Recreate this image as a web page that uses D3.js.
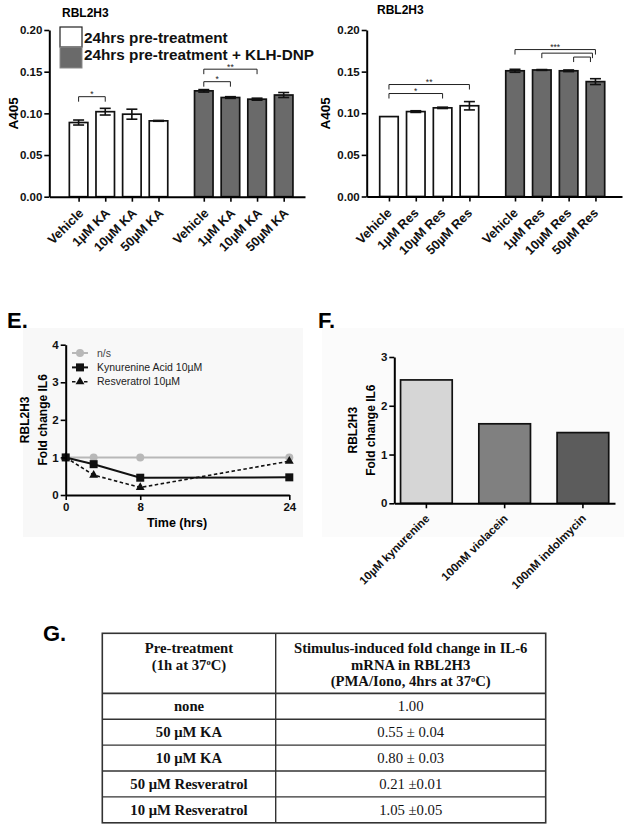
<!DOCTYPE html>
<html>
<head>
<meta charset="utf-8">
<title>RBL2H3</title>
<script src="https://cdnjs.cloudflare.com/ajax/libs/d3/7.8.5/d3.min.js"></script>
<style>
body { margin: 0; background: #fff; }
svg text { font-family: Arial, "Liberation Sans", sans-serif; }
</style>
</head>
<body>
<svg id="fig" width="624" height="828"></svg>
<script>
    // ---- data ----
    var kaLabels = ["Vehicle", "1\u00b5M KA", "10\u00b5M KA", "50\u00b5M KA"];
    var kaPre = [0.089, 0.102, 0.099, 0.091];
    var kaPreErr = [0.003, 0.004, 0.006, 0.0005];
    var kaKlh = [0.127, 0.119, 0.117, 0.122];
    var kaKlhErr = [0.0015, 0.001, 0.0012, 0.003];

    var resLabels = ["Vehicle", "1\u00b5M Res", "10\u00b5M Res", "50\u00b5M Res"];
    var resPre = [0.096, 0.102, 0.1065, 0.109];
    var resPreErr = [0, 0.001, 0.0008, 0.005];
    var resKlh = [0.151, 0.152, 0.151, 0.138];
    var resKlhErr = [0.0018, 0.0005, 0.001, 0.0035];

    var a405Ticks = [0, 0.05, 0.10, 0.15, 0.20];
    var legendLabels = ["24hrs pre-treatment", "24hrs pre-treatment + KLH-DNP"];

    // significance brackets: group, from bar, to bar, level (A405), text
    var kaSig = [
        {g: 0, a: 0, b: 1, level: 0.120, text: "*"},
        {g: 1, a: 0, b: 1, level: 0.138, text: "*"},
        {g: 1, a: 0, b: 2, level: 0.153, text: "**"}
    ];
    var resSig = [
        {g: 0, a: 0, b: 2, level: 0.1237, text: "*"},
        {g: 0, a: 0, b: 3, level: 0.1345, text: "**"},
        {g: 1, a: 0, b: 3, level: 0.1765, text: "***"},
        {g: 1, a: 1, b: 3, level: 0.1722, text: ""},
        {g: 1, a: 2, b: 3, level: 0.1675, text: ""}
    ];

    var timePoints = [0, 3, 8, 24];
    var timeTicks = [0, 8, 24];
    var foldTicks = [0, 1, 2, 3, 4];
    var nsSeries = [1, 1, 1, 1];
    var kaSeries = [1, 0.82, 0.46, 0.47];
    var resSeries = [1, 0.53, 0.20, 0.90];
    var lineNames = ["n/s", "Kynurenine Acid 10\u00b5M", "Resveratrol 10\u00b5M"];

    var fLabels = ["10\u00b5M kynurenine", "100nM violacein", "100nM indolmycin"];
    var fValues = [2.53, 1.63, 1.45];
    var fTicks = [0, 1, 2, 3];

    var tableHead = [["Pre-treatment", "(1h at 37^oC)"],
                     ["Stimulus-induced fold change in IL-6", "mRNA in RBL2H3", "(PMA/Iono, 4hrs at 37^oC)"]];
    var tableTreatment = ["none", "50 \u03bcM KA", "10 \u03bcM KA", "50 \u03bcM Resveratrol", "10 \u03bcM Resveratrol"];
    var tableFold = ["1.00", "0.55 \u00b1 0.04", "0.80 \u00b1 0.03", "0.21 \u00b10.01", "1.05 \u00b10.05"];

    var svg = d3.select("#fig");
    var white = "#ffffff", darkGray = "#6a6a6a";

    // ---- bar panels (top row) ----
    function barPanel(o) {
        var g = svg.append("g");
        var y = d3.scaleLinear().domain([0, 0.2]).range([o.yBottom, o.yTop]);
        var x = d3.scaleLinear().domain(o.slots).range([o.axisX, o.axisEnd]);
        var groupGap = 4.7;
        var pos = function(gi, i) { return gi * groupGap + i; };
        var bw = 18.5;

        var bars = [];
        o.series.forEach(function(s, gi) {
            s.values.forEach(function(v, i) {
                bars.push({p: pos(gi, i), v: v, e: s.err[i], fill: s.fill, label: o.labels[i]});
            });
        });

        g.selectAll("rect.bar").data(bars).enter().append("rect")
            .attr("class", "bar")
            .attr("x", d => x(d.p) - bw / 2)
            .attr("width", bw)
            .attr("y", d => y(d.v))
            .attr("height", d => y(0) - y(d.v))
            .attr("fill", d => d.fill)
            .attr("stroke", "#111")
            .attr("stroke-width", 1.7);

        // error bars
        var eb = g.selectAll("g.err").data(bars.filter(d => d.e > 0)).enter().append("g")
            .attr("stroke", "#111").attr("stroke-width", 1.6);
        eb.append("line")
            .attr("x1", d => x(d.p)).attr("x2", d => x(d.p))
            .attr("y1", d => y(d.v - d.e)).attr("y2", d => y(d.v + d.e));
        eb.append("line")
            .attr("x1", d => x(d.p) - 5.5).attr("x2", d => x(d.p) + 5.5)
            .attr("y1", d => y(d.v + d.e)).attr("y2", d => y(d.v + d.e));
        eb.append("line")
            .attr("x1", d => x(d.p) - 5.5).attr("x2", d => x(d.p) + 5.5)
            .attr("y1", d => y(d.v - d.e)).attr("y2", d => y(d.v - d.e));

        // y axis
        var ya = g.append("g")
            .attr("transform", "translate(" + o.axisX + ",0)")
            .call(d3.axisLeft(y).tickValues(a405Ticks).tickFormat(d3.format(".2f")).tickSize(5).tickSizeOuter(0));
        ya.select(".domain").attr("stroke-width", 2);
        ya.selectAll(".tick line").attr("stroke-width", 1.6);
        ya.selectAll("text").attr("font-size", 11.5).attr("font-weight", "bold")
            .attr("font-family", "Arial, 'Liberation Sans', sans-serif").attr("x", -7).attr("fill", "#111");

        // x axis with rotated labels
        var ticks = bars.map(d => d.p);
        var xa = g.append("g")
            .attr("transform", "translate(0," + y(0) + ")")
            .call(d3.axisBottom(x).tickValues(ticks).tickSize(5).tickSizeOuter(0)
                .tickFormat(function(p) { return bars.find(d => d.p === p).label; }));
        xa.select(".domain").attr("stroke-width", 2);
        xa.selectAll(".tick line").attr("stroke-width", 1.6);
        xa.selectAll("text")
            .attr("font-size", 12.8).attr("font-weight", "bold")
            .attr("font-family", "Arial, 'Liberation Sans', sans-serif").attr("fill", "#111")
            .attr("x", 0).attr("y", 0).attr("dy", "0.35em")
            .attr("text-anchor", "end")
            .attr("transform", "translate(" + o.labelDx + ",14) rotate(-45)");

        // significance brackets
        o.sig.forEach(function(s) {
            var depth = (s.text === "") ? (s.b - s.a === 1 ? 5 : 3) : 0;
            var x1 = x(pos(s.g, s.a)) + (s.b - s.a === 1 && depth ? depth : 0);
            var x2 = x(pos(s.g, s.b)) - depth;
            var yy = y(s.level);
            g.append("path")
                .attr("d", "M" + x1 + "," + (yy + 5) + "V" + yy + "H" + x2 + "V" + (yy + 5))
                .attr("fill", "none").attr("stroke", "#222").attr("stroke-width", 1);
            if (s.text) {
                g.append("text").attr("x", (x1 + x2) / 2).attr("y", yy + 0.5)
                    .attr("text-anchor", "middle").attr("font-size", 8.5).attr("fill", "#222")
                    .text(s.text);
            }
        });

        // title and y label
        g.append("text").attr("x", o.titleX).attr("y", o.titleY)
            .attr("font-size", 12).attr("font-weight", "bold").text("RBL2H3");
        g.append("text")
            .attr("transform", "translate(" + o.ylabX + "," + y(0.1) + ") rotate(-90)")
            .attr("text-anchor", "middle").attr("font-size", 13.5).attr("font-weight", "bold")
            .text("A405");
        return g;
    }

    var gA = barPanel({
        yTop: 30, yBottom: 196.7, axisX: 49.3, axisEnd: 305, slots: [-1.1, 8.5],
        labels: kaLabels, labelDx: 2,
        series: [{values: kaPre, err: kaPreErr, fill: white}, {values: kaKlh, err: kaKlhErr, fill: darkGray}],
        sig: kaSig, titleX: 62, titleY: 17, ylabX: 18
    });

    barPanel({
        yTop: 30, yBottom: 196.5, axisX: 366.7, axisEnd: 622, slots: [-0.83, 8.69],
        labels: resLabels, labelDx: 0,
        series: [{values: resPre, err: resPreErr, fill: white}, {values: resKlh, err: resKlhErr, fill: darkGray}],
        sig: resSig, titleX: 377, titleY: 14, ylabX: 330
    });

    // legend of panel A
    var leg = gA.append("g");
    leg.append("rect").attr("x", 60).attr("y", 27).attr("width", 22).attr("height", 20)
        .attr("fill", white).attr("stroke", "#222").attr("stroke-width", 1.2);
    leg.append("rect").attr("x", 60).attr("y", 47).attr("width", 22).attr("height", 21)
        .attr("fill", darkGray).attr("stroke", "#8a8a8a").attr("stroke-width", 1);
    leg.selectAll("text.leg").data(legendLabels).enter().append("text")
        .attr("x", 84).attr("y", (d, i) => 42.5 + i * 17)
        .attr("font-size", 15.3).attr("font-weight", "bold").attr("fill", "#111")
        .text(d => d);

    // ---- panel E: time course ----
    var gE = svg.append("g");
    gE.append("rect").attr("x", 23).attr("y", 328).attr("width", 280).attr("height", 209).attr("fill", "#f8f8f8");
    var xe = d3.scaleLinear().domain([0, 24]).range([65.7, 289.3]);
    var ye = d3.scaleLinear().domain([0, 4]).range([495, 344.7]);

    var lineGen = d3.line().x((d, i) => xe(timePoints[i])).y(d => ye(d));
    var styles = [
        {data: nsSeries, color: "#b8b8b8", width: 2, dash: null, mark: "circle"},
        {data: kaSeries, color: "#111", width: 2, dash: null, mark: "square"},
        {data: resSeries, color: "#111", width: 1.6, dash: "3.5,2.5", mark: "triangle"}
    ];
    function drawMark(sel, mark, color, cx, cy) {
        if (mark === "circle") sel.append("circle").attr("cx", cx).attr("cy", cy).attr("r", 4).attr("fill", color);
        else if (mark === "square") sel.append("rect").attr("x", cx - 4).attr("y", cy - 4).attr("width", 8).attr("height", 8).attr("fill", color);
        else sel.append("path").attr("transform", "translate(" + cx + "," + cy + ")")
            .attr("d", d3.symbol().type(d3.symbolTriangle).size(34)).attr("fill", color);
    }
    styles.forEach(function(s) {
        gE.append("path").attr("d", lineGen(s.data)).attr("fill", "none")
            .attr("stroke", s.color).attr("stroke-width", s.width).attr("stroke-dasharray", s.dash);
        s.data.forEach(function(v, i) { drawMark(gE, s.mark, s.color, xe(timePoints[i]), ye(v)); });
    });

    var eya = gE.append("g").attr("transform", "translate(65.7,0)")
        .call(d3.axisLeft(ye).tickValues(foldTicks).tickFormat(d3.format("d")).tickSize(5).tickSizeOuter(0));
    var exa = gE.append("g").attr("transform", "translate(0,495)")
        .call(d3.axisBottom(xe).tickValues(timeTicks).tickFormat(d3.format("d")).tickSize(5).tickSizeOuter(0));
    [eya, exa].forEach(function(a) {
        a.select(".domain").attr("stroke-width", 2);
        a.selectAll(".tick line").attr("stroke-width", 1.6);
        a.selectAll("text").attr("font-size", 11.5).attr("font-weight", "bold")
            .attr("font-family", "Arial, 'Liberation Sans', sans-serif").attr("fill", "#111");
    });
    eya.selectAll("text").attr("x", -7);
    exa.selectAll("text").attr("y", 8);

    gE.append("text").attr("x", 177).attr("y", 527).attr("text-anchor", "middle")
        .attr("font-size", 12.5).attr("font-weight", "bold").text("Time (hrs)");
    var eyl = gE.append("text").attr("transform", "translate(29," + ye(2) + ") rotate(-90)")
        .attr("text-anchor", "middle").attr("font-size", 12).attr("font-weight", "bold");
    eyl.append("tspan").attr("x", 0).attr("dy", 0).text("RBL2H3");
    eyl.append("tspan").attr("x", 0).attr("dy", 17.5).text("Fold change IL6");

    // legend E
    lineNames.forEach(function(name, i) {
        var s = styles[i], cy = 353 + i * 14.4;
        gE.append("line").attr("x1", 72).attr("x2", 88).attr("y1", cy).attr("y2", cy)
            .attr("stroke", s.color).attr("stroke-width", s.width).attr("stroke-dasharray", s.dash);
        drawMark(gE, s.mark, s.color, 80, cy);
        gE.append("text").attr("x", 97).attr("y", cy).attr("dy", "0.35em")
            .attr("font-size", 10.5).attr("fill", i === 0 ? "#444" : "#222").text(name);
    });

    svg.append("text").attr("x", 7).attr("y", 328).attr("font-size", 22).attr("font-weight", "bold").text("E.");

    // ---- panel F: bars ----
    var gF = svg.append("g");
    gF.append("rect").attr("x", 322).attr("y", 328).attr("width", 302).attr("height", 209).attr("fill", "#fbfbfb");
    var yf = d3.scaleLinear().domain([0, 3]).range([503.3, 357]);
    var xf = d3.scaleBand().domain(fLabels).range([394.3, 615]).paddingInner(0.34).paddingOuter(0.08);
    var fFills = ["#d6d6d6", "#808080", "#5c5c5c"];
    gF.selectAll("rect.fbar").data(fValues).enter().append("rect")
        .attr("x", (d, i) => xf(fLabels[i]))
        .attr("width", xf.bandwidth())
        .attr("y", d => yf(d))
        .attr("height", d => yf(0) - yf(d))
        .attr("fill", (d, i) => fFills[i])
        .attr("stroke", "#111").attr("stroke-width", 1.7);
    var fya = gF.append("g").attr("transform", "translate(394.3,0)")
        .call(d3.axisLeft(yf).tickValues(fTicks).tickFormat(d3.format("d")).tickSize(5).tickSizeOuter(0));
    var fxa = gF.append("g").attr("transform", "translate(0,503.3)")
        .call(d3.axisBottom(xf).tickSize(5).tickSizeOuter(0));
    [fya, fxa].forEach(function(a) {
        a.select(".domain").attr("stroke-width", 2);
        a.selectAll(".tick line").attr("stroke-width", 1.6);
        a.selectAll("text").attr("font-size", 11.5).attr("font-weight", "bold")
            .attr("font-family", "Arial, 'Liberation Sans', sans-serif").attr("fill", "#111");
    });
    fya.selectAll("text").attr("x", -7);
    fxa.selectAll("text").attr("font-size", 11.5)
        .attr("x", 0).attr("y", 0).attr("dy", "0.35em").attr("text-anchor", "end")
        .attr("transform", "translate(1,13) rotate(-45)");
    var fyl = gF.append("text").attr("transform", "translate(357," + yf(1.5) + ") rotate(-90)")
        .attr("text-anchor", "middle").attr("font-size", 12).attr("font-weight", "bold");
    fyl.append("tspan").attr("x", 0).attr("dy", 0).text("RBL2H3");
    fyl.append("tspan").attr("x", 0).attr("dy", 17.5).text("Fold change IL6");

    svg.append("text").attr("x", 318).attr("y", 328).attr("font-size", 22).attr("font-weight", "bold").text("F.");

    // ---- panel G: table ----
    var gG = svg.append("g");
    var colX = [102.3, 275.7, 545.7];
    var headTop = 633.3, headBottom = 693.3, rowH = 25.9;
    var rowY = d3.scaleLinear().domain([0, tableTreatment.length]).range([headBottom, headBottom + rowH * tableTreatment.length]);
    var serif = "'Liberation Serif', 'DejaVu Serif', serif";

    gG.append("rect").attr("x", colX[0]).attr("y", headTop)
        .attr("width", colX[2] - colX[0]).attr("height", rowY(tableTreatment.length) - headTop)
        .attr("fill", "none").attr("stroke", "#333").attr("stroke-width", 1.6);
    gG.append("line").attr("x1", colX[1]).attr("x2", colX[1]).attr("y1", headTop).attr("y2", rowY(tableTreatment.length))
        .attr("stroke", "#333").attr("stroke-width", 1.4);
    d3.range(tableTreatment.length).forEach(function(i) {
        gG.append("line").attr("x1", colX[0]).attr("x2", colX[2]).attr("y1", rowY(i)).attr("y2", rowY(i))
            .attr("stroke", "#333").attr("stroke-width", i === 0 ? 1.8 : 1.4);
    });

    function serifText(sel, str, cx, cy, bold) {
        var t = sel.append("text").attr("x", cx).attr("y", cy).attr("dy", "0.35em")
            .attr("text-anchor", "middle").attr("font-size", 14.7)
            .attr("font-weight", bold ? "bold" : "normal").attr("fill", "#111")
            .style("font-family", serif);
        var parts = str.split("^o");
        t.append("tspan").text(parts[0]);
        if (parts.length > 1) {
            t.append("tspan").attr("font-size", 8.5).attr("dy", -4.5).text("o");
            t.append("tspan").attr("dy", 4.5).text(parts[1]);
        }
    }
    tableHead.forEach(function(lines, c) {
        var cx = (colX[c] + colX[c + 1]) / 2;
        lines.forEach(function(l, k) { serifText(gG, l, cx, 648 + k * 16.5, true); });
    });
    tableTreatment.forEach(function(t, i) {
        var cy = (rowY(i) + rowY(i + 1)) / 2;
        serifText(gG, t, (colX[0] + colX[1]) / 2, cy, true);
        serifText(gG, tableFold[i], (colX[1] + colX[2]) / 2, cy, false);
    });

    svg.append("text").attr("x", 43).attr("y", 641).attr("font-size", 22).attr("font-weight", "bold").text("G.");
</script>
</body>
</html>
